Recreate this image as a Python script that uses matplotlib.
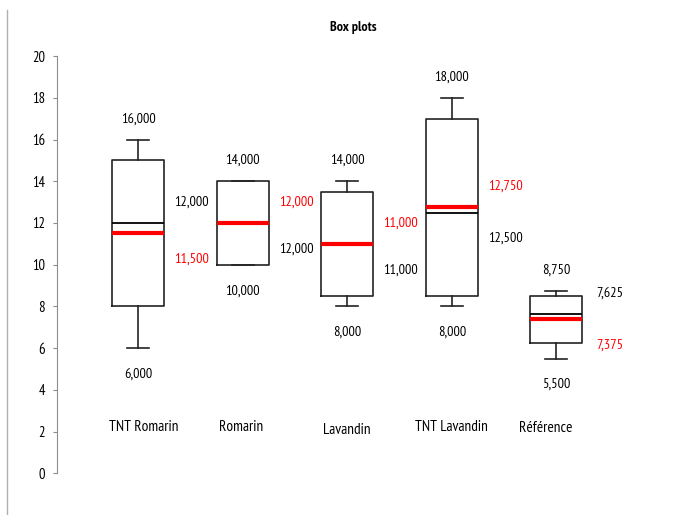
import matplotlib
matplotlib.use("Agg")
import matplotlib.pyplot as plt
from matplotlib.lines import Line2D

plt.rcParams['font.family'] = ['PT Sans Narrow', 'DejaVu Sans']

# summary statistics
categories = ["TNT Romarin", "Romarin", "Lavandin", "TNT Lavandin", "Référence"]
minimum = [6.0, 10.0, 8.0, 8.0, 5.5]
q1 = [8.0, 10.0, 8.5, 8.5, 6.25]
median = [12.0, 12.0, 11.0, 12.5, 7.625]
mean = [11.5, 12.0, 11.0, 12.75, 7.375]
q3 = [15.0, 14.0, 13.5, 17.0, 8.5]
maximum = [16.0, 14.0, 14.0, 18.0, 8.75]

# layout of category names (small shifts as in the original)
name_dx = [0.05, -0.02, 0.0, 0.0, -0.1]
name_y = [2.23, 2.23, 2.07, 2.23, 2.16]

def fr(v):
    return f"{v:.3f}".replace(".", ",")

positions = list(range(1, len(categories) + 1))
stats = []
for i, name in enumerate(categories):
    stats.append({"label": name, "whislo": minimum[i], "q1": q1[i], "med": median[i],
                  "q3": q3[i], "whishi": maximum[i], "mean": mean[i], "fliers": []})

fig = plt.figure(figsize=(6.91, 5.15), dpi=100)
ax = fig.add_axes([0.083, 0.081, 0.84, 0.81])

line_col = "#222222"
ax.bxp(stats, positions=positions, widths=0.5, capwidths=0.21,
       showmeans=True, meanline=True, showfliers=False, manage_ticks=False,
       boxprops=dict(color=line_col, linewidth=1.2),
       whiskerprops=dict(color=line_col, linewidth=1.2),
       capprops=dict(color=line_col, linewidth=1.2),
       medianprops=dict(color="black", linewidth=1.3),
       meanprops=dict(color="#ff0000", linewidth=3.0, linestyle="-"))

fs = 10.3
side = 0.51  # mean / median labels sit right of the box
for i, p in enumerate(positions):
    ax.text(p, maximum[i] + 1.0, fr(maximum[i]), ha="center", va="center", fontsize=fs)
    ax.text(p, minimum[i] - 1.25, fr(minimum[i]), ha="center", va="center", fontsize=fs)
    if mean[i] >= median[i]:
        ax.text(p + side, mean[i] + 1.0, fr(mean[i]), ha="center", va="center", fontsize=fs, color="#ff0000")
        ax.text(p + side, median[i] - 1.25, fr(median[i]), ha="center", va="center", fontsize=fs)
    else:
        ax.text(p + side, median[i] + 1.0, fr(median[i]), ha="center", va="center", fontsize=fs)
        ax.text(p + side, mean[i] - 1.25, fr(mean[i]), ha="center", va="center", fontsize=fs, color="#ff0000")
    ax.text(p + name_dx[i], name_y[i], categories[i], ha="center", va="center", fontsize=11)

ax.set_xlim(0.225, 5.78)
ax.set_ylim(0, 20)
ax.set_yticks(range(0, 21, 2))
ax.set_xticks([])
for s in ["top", "right", "bottom"]:
    ax.spines[s].set_visible(False)
ax.spines["left"].set_color("#8c8c8c")
ax.tick_params(axis="y", direction="out", length=3, color="#8c8c8c", labelsize=10.5, pad=6)

fig.text(0.511, 0.947, "Box plots", ha="center", va="center", fontsize=10, fontweight="bold")
fig.add_artist(Line2D([0.0101, 0.0101], [0.0, 0.98], transform=fig.transFigure,
                      color="#b0b0b0", linewidth=1.0))

fig.savefig("out.png", dpi=100)
plt.close(fig)
